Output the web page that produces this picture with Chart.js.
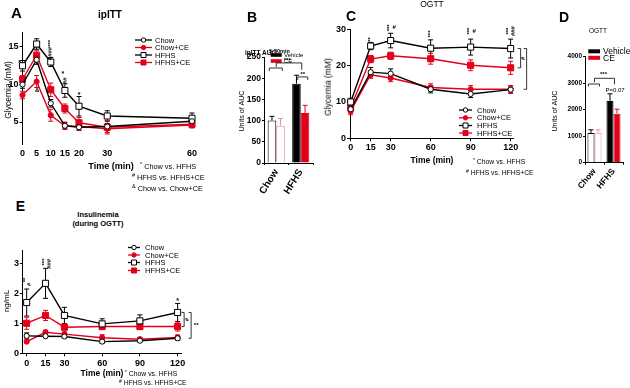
<!DOCTYPE html>
<html><head><meta charset="utf-8">
<script src="https://cdn.jsdelivr.net/npm/chart.js@4.4.0/dist/chart.umd.min.js"></script>
<style>
html,body{margin:0;padding:0;background:#fff;}
body{width:630px;height:388px;overflow:hidden;position:relative;font-family:"Liberation Sans",Arial,sans-serif;}
canvas{position:absolute;}
.t{position:absolute;white-space:nowrap;color:#000;line-height:1;}
.t sup{font-size:75%;vertical-align:top;position:relative;top:-1px;}
</style></head><body>
<canvas id="cA"></canvas><canvas id="cB"></canvas><canvas id="cC"></canvas><canvas id="cD"></canvas><canvas id="cE"></canvas>
<script>
// ---------------- DATA ----------------
const groupNames = ['Chow', 'Chow+CE', 'HFHS', 'HFHS+CE'];

// A: ipITT glycemia (mM)
const ittTime = [0, 5, 10, 15, 20, 30, 60];
const ittTimeTicks = [0, 5, 10, 15, 20, 30, 60];
const ittYTicks = [5, 10, 15];
const ittChow     = [10.0, 13.3, 7.5, 4.5, 4.3, 4.4, 5.1];
const ittChowCE   = [8.6, 10.4, 5.9, 4.5, 4.4, 4.1, 4.6];
const ittHFHS     = [12.5, 15.4, 13.0, 9.2, 7.1, 5.8, 5.5];
const ittHFHSCE   = [10.7, 13.9, 9.3, 6.8, 4.9, 4.3, 4.7];
const ittChowErr   = [0.5, 0.6, 0.5, 0.4, 0.4, 0.4, 0.4];
const ittChowCEErr = [0.5, 0.8, 0.8, 0.5, 0.5, 0.5, 0.4];
const ittHFHSErr   = [0.7, 0.7, 0.6, 0.9, 1.3, 0.7, 0.7];
const ittHFHSCEErr = [0.5, 0.6, 0.9, 0.6, 0.7, 0.9, 0.4];

// B: ipITT AUC 5-30 min
const aucGroups = ['Chow', 'HFHS'];
const ittAucVehicle = [100, 187];
const ittAucCE      = [88, 118];
const ittAucVehicleErr = [10, 20];
const ittAucCEErr      = [17, 18];

// C: OGTT glycemia (mM)
const ogttTime = [0, 15, 30, 60, 90, 120];
const ogttTimeTicks = [0, 15, 30, 60, 90, 120];
const ogttYTicks = [0, 10, 20, 30];
const ogttChow   = [8.0, 18.2, 17.8, 13.5, 12.2, 13.4];
const ogttChowCE = [7.5, 17.5, 16.6, 14.0, 13.5, 13.5];
const ogttHFHS   = [10.0, 25.4, 26.9, 24.8, 25.1, 24.7];
const ogttHFHSCE = [8.5, 21.8, 22.7, 21.9, 20.1, 19.4];
const ogttChowErr   = [1.0, 1.3, 1.3, 1.0, 1.0, 1.0];
const ogttChowCEErr = [1.0, 1.0, 1.0, 1.0, 1.0, 1.0];
const ogttHFHSErr   = [1.0, 1.0, 2.0, 2.3, 2.2, 2.6];
const ogttHFHSCEErr = [1.0, 1.0, 1.0, 1.5, 1.5, 1.8];

// D: OGTT AUC
const ogttAucVehicle = [1120, 2330];
const ogttAucCE      = [1130, 1850];
const ogttAucVehicleErr = [120, 270];
const ogttAucCEErr      = [110, 170];

// E: Insulinemia during OGTT (ng/mL)
const insTime = [0, 15, 30, 60, 90, 120];
const insYTicks = [0, 1, 2, 3];
const insChow   = [0.58, 0.57, 0.56, 0.39, 0.42, 0.50];
const insChowCE = [0.39, 0.70, 0.64, 0.52, 0.47, 0.53];
const insHFHS   = [1.69, 2.33, 1.26, 0.98, 1.08, 1.36];
const insHFHSCE = [1.00, 1.26, 0.87, 0.89, 0.89, 0.89];
const insChowErr   = [0.10, 0.05, 0.05, 0.06, 0.05, 0.06];
const insChowCEErr = [0.04, 0.07, 0.10, 0.10, 0.06, 0.08];
const insHFHSErr   = [0.45, 0.50, 0.27, 0.17, 0.20, 0.30];
const insHFHSCEErr = [0.20, 0.17, 0.08, 0.10, 0.10, 0.15];

// ---------------- STYLE ----------------
const FONT = '"Liberation Sans", Arial, sans-serif';
const BLACK = '#000000', RED = '#e2001a', PINK = '#e8909c';
const EXTRA = {};

function drawErr(chart, o) {
  const ctx = chart.ctx, ys = chart.scales.y;
  ctx.save();
  chart.data.datasets.forEach((ds, di) => {
    const errs = o.list[di]; if (!errs) return;
    const meta = chart.getDatasetMeta(di);
    meta.data.forEach((el, i) => {
      const v = o.bars ? ds.data[i] : ds.data[i].y;
      const e = errs[i];
      const xp = el.x;
      const top = ys.getPixelForValue(v + e);
      const bot = ys.getPixelForValue(o.bars ? v : v - e);
      ctx.strokeStyle = Array.isArray(ds.borderColor) ? ds.borderColor[i] : ds.borderColor;
      ctx.lineWidth = 1;
      ctx.beginPath();
      ctx.moveTo(xp, top); ctx.lineTo(xp, bot);
      ctx.moveTo(xp - o.cap, top); ctx.lineTo(xp + o.cap, top);
      if (!o.bars) { ctx.moveTo(xp - o.cap, bot); ctx.lineTo(xp + o.cap, bot); }
      ctx.stroke();
    });
  });
  ctx.restore();
}
function drawLegend(chart, e) {
  const L = e.legend, ctx = chart.ctx, ox = e.box[0], oy = e.box[1];
  ctx.save();
  ctx.font = L.font; ctx.textBaseline = 'middle'; ctx.textAlign = 'left';
  L.items.forEach((it, i) => {
    const y = L.ys[i] - oy, x0 = L.x0 - ox, x1 = L.x1 - ox;
    if (it.swatch) {
      ctx.fillStyle = it.c; ctx.fillRect(x0, y - L.sh / 2, x1 - x0, L.sh);
    } else {
      ctx.strokeStyle = it.c; ctx.lineWidth = 1.3;
      ctx.beginPath(); ctx.moveTo(x0, y); ctx.lineTo(x1, y); ctx.stroke();
      const cx = (x0 + x1) / 2;
      ctx.fillStyle = it.fill ? it.c : '#fff'; ctx.lineWidth = 1;
      ctx.beginPath();
      if (it.shape === 'circle') ctx.arc(cx, y, 2.2, 0, Math.PI * 2); else ctx.rect(cx - 2.5, y - 2.5, 5, 5);
      ctx.fill(); ctx.stroke();
    }
    ctx.fillStyle = '#000'; ctx.fillText(it.label, L.tx - ox, y + 0.5);
  });
  ctx.restore();
}
function drawMarks(chart, marks) {
  const ctx = chart.ctx, xs = chart.scales.x, ys = chart.scales.y;
  ctx.save(); ctx.fillStyle = '#000'; ctx.strokeStyle = '#000'; ctx.lineWidth = 0.8;
  marks.forEach(m => {
    if (m.k === 't') {
      const x = xs.getPixelForValue(m.x) + (m.dx || 0), y = ys.getPixelForValue(m.y) + (m.dy || 0);
      ctx.save(); ctx.translate(x, y); if (m.rot) ctx.rotate(-Math.PI / 2);
      ctx.font = m.f || ('bold 7px ' + FONT); ctx.textAlign = 'center'; ctx.textBaseline = 'middle';
      ctx.fillText(m.s, 0, 0); ctx.restore();
    } else if (m.k === 'vb') {
      const x = xs.getPixelForValue(m.x) + m.dx, y1 = ys.getPixelForValue(m.y1), y2 = ys.getPixelForValue(m.y2);
      ctx.beginPath(); ctx.moveTo(x - m.w, y1); ctx.lineTo(x, y1); ctx.lineTo(x, y2); ctx.lineTo(x - m.w, y2); ctx.stroke();
    } else if (m.k === 'hb') {
      const x1 = xs.getPixelForValue(m.x1) + m.dx1, x2 = xs.getPixelForValue(m.x2) + m.dx2, y = ys.getPixelForValue(m.y);
      ctx.beginPath(); ctx.moveTo(x1, y + m.h1); ctx.lineTo(x1, y); ctx.lineTo(x2, y); ctx.lineTo(x2, y + m.h2); ctx.stroke();
    }
  });
  ctx.restore();
}
Chart.register({
  id: 'sketch',
  beforeDatasetsDraw(chart) { const e = EXTRA[chart.canvas.id]; if (e && e.err && !e.err.bars) drawErr(chart, e.err); },
  afterDatasetsDraw(chart) { const e = EXTRA[chart.canvas.id]; if (e && e.err && e.err.bars) drawErr(chart, e.err); },
  afterDraw(chart) {
    const e = EXTRA[chart.canvas.id]; if (!e) return;
    if (e.legend) drawLegend(chart, e);
    if (e.marks) drawMarks(chart, e.marks);
  }
});

function lineDS(label, xs, ys, color, shape, filled) {
  return {
    label, data: xs.map((x, i) => ({ x, y: ys[i] })),
    borderColor: color, backgroundColor: color, borderWidth: 1.4,
    pointStyle: shape === 'circle' ? 'circle' : 'rect',
    pointRadius: shape === 'circle' ? 2.6 : 4.3,
    pointBorderColor: color, pointBackgroundColor: filled ? color : '#ffffff',
    pointBorderWidth: 1, tension: 0, clip: false, fill: false
  };
}
function fourSeries(xs, a, b, c, d) {
  return [
    lineDS(groupNames[0], xs, a, BLACK, 'circle', false),
    lineDS(groupNames[1], xs, b, RED, 'circle', true),
    lineDS(groupNames[2], xs, c, BLACK, 'square', false),
    lineDS(groupNames[3], xs, d, RED, 'square', true)
  ];
}
function legendFrom(datasets, x0, x1, tx, ys) {
  return { font: '7.5px ' + FONT, x0, x1, tx, ys,
    items: datasets.map(ds => ({ label: ds.label, c: ds.borderColor, shape: ds.pointStyle === 'circle' ? 'circle' : 'square', fill: ds.pointBackgroundColor !== '#ffffff' })) };
}
const tickFont = (s) => ({ family: FONT, size: s, weight: 'bold' });
const plain = v => String(v);
function axis(o) {
  return Object.assign({
    grid: { display: true, drawOnChartArea: false, drawTicks: true, tickLength: 3, color: '#000', lineWidth: 1 },
    border: { display: true, color: '#000', width: 1 },
    ticks: { color: '#000', font: tickFont(9), padding: 1, autoSkip: false, maxRotation: 0 }
  }, o);
}
function build(id, box, area, cfg, extra) {
  const cv = document.getElementById(id);
  cv.width = box[2]; cv.height = box[3];
  cv.style.left = box[0] + 'px'; cv.style.top = box[1] + 'px';
  cv.style.width = box[2] + 'px'; cv.style.height = box[3] + 'px';
  const o = cfg.options;
  o.responsive = false; o.animation = false; o.devicePixelRatio = 1; o.events = [];
  o.plugins = { legend: { display: false }, tooltip: { enabled: false } };
  o.layout = { padding: { left: 0, bottom: 0, top: area[1] - box[1], right: box[0] + box[2] - area[2] } };
  o.scales.y.afterFit = s => { s.width = area[0] - box[0]; };
  o.scales.x.afterFit = s => { s.height = box[1] + box[3] - area[3]; };
  extra.box = box;
  EXTRA[id] = extra;
  return new Chart(cv, cfg);
}
const setTicks = arr => (s => { s.ticks = arr.map(v => ({ value: v })); });

// ---------------- PANEL A ----------------
const dsA = fourSeries(ittTime, ittChow, ittChowCE, ittHFHS, ittHFHSCE);
build('cA', [0, 20, 205, 150], [22.5, 32, 192, 144.5], {
  type: 'line', data: { datasets: dsA },
  options: { scales: {
    x: axis({ type: 'linear', min: 0, max: 60, afterBuildTicks: setTicks(ittTimeTicks),
      grid: { display: false, drawTicks: false }, border: { display: false },
      ticks: { color: '#000', font: tickFont(9), padding: 4, autoSkip: false, maxRotation: 0 } }),
    y: axis({ type: 'linear', min: 2, max: 17, afterBuildTicks: setTicks(ittYTicks) })
  } }
}, {
  err: { cap: 2.5, list: [ittChowErr, ittChowCEErr, ittHFHSErr, ittHFHSCEErr] },
  legend: legendFrom(dsA, 135, 152, 155, [40, 47.5, 55, 62.5]),
  marks: [
    { k: 't', x: 0, y: 12.9, dx: -3, s: '*' },
    { k: 't', x: 10, y: 14.6, dx: 0, s: '####***', rot: 1, f: 'bold 6px ' + FONT },
    { k: 't', x: 15, y: 11.4, dx: -2, s: '*' },
    { k: 't', x: 15, y: 10.5, dx: 0, s: '##', rot: 1, f: 'bold 6px ' + FONT },
    { k: 't', x: 20, y: 8.6, dx: 0, s: '*' },
    { k: 't', x: 5, y: 9.2, dx: 0.5, s: '&', f: 'bold 6px ' + FONT }
  ]
});

// ---------------- PANEL B ----------------
build('cB', [232, 45, 95, 160], [264, 57, 313, 163], {
  type: 'bar',
  data: { labels: aucGroups, datasets: [
    { label: 'Vehicle', data: ittAucVehicle, backgroundColor: ['#ffffff', BLACK], borderColor: [BLACK, BLACK], borderWidth: 1, borderSkipped: 'bottom', categoryPercentage: 0.7, barPercentage: 1 },
    { label: 'CE', data: ittAucCE, backgroundColor: ['#ffffff', RED], borderColor: [PINK, RED], borderWidth: 1, borderSkipped: 'bottom', categoryPercentage: 0.7, barPercentage: 1 }
  ] },
  options: { scales: {
    x: axis({ grid: { display: true, drawOnChartArea: false, drawTicks: true, tickLength: 2, color: '#000' },
      ticks: { color: '#000', font: tickFont(10), padding: 2, autoSkip: false, minRotation: 58, maxRotation: 58 } }),
    y: axis({ type: 'linear', min: 0, max: 250, ticks: { color: '#000', font: tickFont(8.5), padding: 1, stepSize: 50, callback: plain },
      grid: { display: true, drawOnChartArea: false, drawTicks: true, tickLength: 2, color: '#000' } })
  } }
}, {
  err: { bars: true, cap: 2.5, list: [ittAucVehicleErr, ittAucCEErr] },
  legend: { font: '6px ' + FONT, x0: 270.7, x1: 281.7, tx: 284, ys: [55, 61], sh: 3.6,
    items: [{ label: 'Vehicle', c: BLACK, swatch: 1 }, { label: 'CE', c: RED, swatch: 1 }] },
  marks: [
    { k: 'hb', x1: 0, x2: 0, dx1: -7, dx2: 6, y: 224, h1: 3, h2: 3 },
    { k: 'hb', x1: 0, x2: 1, dx1: 0, dx2: 1, y: 236, h1: 4, h2: 7 },
    { k: 't', x: 0, y: 243, dx: 11, s: '***', f: 'bold 6px ' + FONT },
    { k: 'hb', x1: 1, x2: 1, dx1: -3, dx2: 7, y: 203, h1: 3, h2: 3 },
    { k: 't', x: 1, y: 210, dx: 2, s: '**', f: 'bold 6px ' + FONT }
  ]
});

// ---------------- PANEL C ----------------
const dsC = fourSeries(ogttTime, ogttChow, ogttChowCE, ogttHFHS, ogttHFHSCE);
build('cC', [318, 15, 210, 140], [350, 29.3, 513.3, 138.3], {
  type: 'line', data: { datasets: dsC },
  options: { scales: {
    x: axis({ type: 'linear', min: -0.5, max: 122, afterBuildTicks: setTicks(ogttTimeTicks) }),
    y: axis({ type: 'linear', min: 0, max: 30, afterBuildTicks: setTicks(ogttYTicks) })
  } }
}, {
  err: { cap: 2.5, list: [ogttChowErr, ogttChowCEErr, ogttHFHSErr, ogttHFHSCEErr] },
  legend: legendFrom(dsC, 459, 472, 477, [110, 117.8, 125.5, 133]),
  marks: [
    { k: 't', x: 15, y: 27.2, dx: 0, s: '**', rot: 1, f: 'bold 6px ' + FONT },
    { k: 't', x: 30, y: 30.4, dx: -1.5, s: '***', rot: 1, f: 'bold 6px ' + FONT },
    { k: 't', x: 30, y: 30.6, dx: 3.5, s: '#', f: 'bold 6px ' + FONT },
    { k: 't', x: 60, y: 28.7, dx: 0, s: '***', rot: 1, f: 'bold 6px ' + FONT },
    { k: 't', x: 90, y: 29.5, dx: -1.5, s: '***', rot: 1, f: 'bold 6px ' + FONT },
    { k: 't', x: 90, y: 29.5, dx: 3.5, s: '#', f: 'bold 6px ' + FONT },
    { k: 't', x: 120, y: 29.5, dx: -2, s: '***', rot: 1, f: 'bold 6px ' + FONT },
    { k: 't', x: 120, y: 29.5, dx: 2.5, s: '###', rot: 1, f: 'bold 6px ' + FONT },
    { k: 'vb', x: 120, dx: 10, y1: 24.7, y2: 19.4, w: 3 },
    { k: 't', x: 120, y: 22, dx: 13, s: '#', rot: 1, f: 'bold 6px ' + FONT },
    { k: 'vb', x: 120, dx: 16, y1: 24.7, y2: 13.5, w: 3 },
    { k: 't', x: 120, y: 19, dx: 20, s: '***', rot: 1, f: 'bold 6px ' + FONT }
  ]
});

// ---------------- PANEL D ----------------
build('cD', [550, 45, 80, 160], [585, 56.7, 623, 162.7], {
  type: 'bar',
  data: { labels: aucGroups, datasets: [
    { label: 'Vehicle', data: ogttAucVehicle, backgroundColor: ['#ffffff', BLACK], borderColor: [BLACK, BLACK], borderWidth: 1, borderSkipped: 'bottom', categoryPercentage: 0.74, barPercentage: 1 },
    { label: 'CE', data: ogttAucCE, backgroundColor: ['#ffffff', RED], borderColor: [PINK, RED], borderWidth: 1, borderSkipped: 'bottom', categoryPercentage: 0.74, barPercentage: 1 }
  ] },
  options: { scales: {
    x: axis({ grid: { display: true, drawOnChartArea: false, drawTicks: true, tickLength: 2, color: '#000' },
      ticks: { color: '#000', font: tickFont(8.5), padding: 2, autoSkip: false, minRotation: 50, maxRotation: 50 } }),
    y: axis({ type: 'linear', min: 0, max: 4000, ticks: { color: '#000', font: tickFont(6.5), padding: 1, stepSize: 1000, callback: plain },
      grid: { display: true, drawOnChartArea: false, drawTicks: true, tickLength: 2, color: '#000' } })
  } }
}, {
  err: { bars: true, cap: 2.5, list: [ogttAucVehicleErr, ogttAucCEErr] },
  legend: { font: '8.5px ' + FONT, x0: 588.3, x1: 600, tx: 603, ys: [51.3, 57.8], sh: 4,
    items: [{ label: 'Vehicle', c: BLACK, swatch: 1 }, { label: 'CE', c: RED, swatch: 1 }] },
  marks: [
    { k: 'hb', x1: 0, x2: 0, dx1: -6, dx2: 5, y: 2970, h1: 2.5, h2: 2.5 },
    { k: 'hb', x1: 0, x2: 1, dx1: 0, dx2: 1, y: 3185, h1: 4, h2: 6 },
    { k: 't', x: 0, y: 3330, dx: 9, s: '***', f: 'bold 6px ' + FONT },
    { k: 't', x: 1, y: 2740, dx: 1.5, s: 'P=0.07', f: '6px ' + FONT }
  ]
});

// ---------------- PANEL E ----------------
const dsE = fourSeries(insTime, insChow, insChowCE, insHFHS, insHFHSCE);
build('cE', [0, 240, 200, 130], [22.9, 250, 181.4, 353.3], {
  type: 'line', data: { datasets: dsE },
  options: { scales: {
    x: axis({ type: 'linear', min: -3, max: 123, afterBuildTicks: setTicks(ogttTimeTicks),
      ticks: { color: '#000', font: tickFont(9), padding: 1.5, autoSkip: false, maxRotation: 0 } }),
    y: axis({ type: 'linear', min: 0, max: 3.44, afterBuildTicks: setTicks(insYTicks) })
  } }
}, {
  err: { cap: 2.5, list: [insChowErr, insChowCEErr, insHFHSErr, insHFHSCEErr] },
  legend: legendFrom(dsE, 128, 140, 145, [247.5, 255, 262.5, 270.5]),
  marks: [
    { k: 't', x: 0, y: 2.44, dx: -1, s: '**', rot: 1, f: 'bold 6px ' + FONT },
    { k: 't', x: 0, y: 2.3, dx: 3, s: '#', rot: 1, f: 'bold 6px ' + FONT },
    { k: 't', x: 15, y: 3.04, dx: -1.5, s: '***', rot: 1, f: 'bold 6px ' + FONT },
    { k: 't', x: 15, y: 2.98, dx: 3.5, s: '###', rot: 1, f: 'bold 6px ' + FONT },
    { k: 't', x: 120, y: 1.75, dx: 0, s: '*' },
    { k: 'vb', x: 120, dx: 6.5, y1: 1.36, y2: 0.89, w: 2.5 },
    { k: 't', x: 120, y: 1.12, dx: 10, s: '#', rot: 1, f: 'bold 6px ' + FONT },
    { k: 'vb', x: 120, dx: 13.5, y1: 1.36, y2: 0.5, w: 2.5 },
    { k: 't', x: 120, y: 0.93, dx: 18.5, s: '**', f: 'bold 6px ' + FONT }
  ]
});

// ---------------- TEXT ----------------
// [html, x, y, size, weight, rotate, align]
const texts = [
  ['A', 16.5, 12, 15, 'bold', 0, 'c'],
  ['B', 252, 17, 14, 'bold', 0, 'c'],
  ['C', 351, 16, 14, 'bold', 0, 'c'],
  ['D', 564, 17, 14, 'bold', 0, 'c'],
  ['E', 20.5, 206, 14, 'bold', 0, 'c'],
  ['ipITT', 110, 15, 10, 'bold', 0, 'c'],
  ['ipITT AUC', 245, 53, 6.5, 'bold', 0, 'l'],
  ['5-30min', 269, 51.5, 5.5, 'bold', 0, 'l'],
  ['OGTT', 432, 3.5, 8.5, 'normal', 0, 'c'],
  ['OGTT', 598, 31, 6.5, 'normal', 0, 'c'],
  ['Insulinemia', 98, 215, 7.5, 'bold', 0, 'c'],
  ['(during OGTT)', 98, 224, 7.5, 'bold', 0, 'c'],
  ['Glycemia (mM)', 7.5, 90, 8.5, 'normal', 1, 'c'],
  ['Time (min)', 111, 166, 9, 'bold', 0, 'c'],
  ['Units of AUC', 242, 111, 7.2, 'normal', 1, 'c'],
  ['Glycemia (mM)', 328, 87, 8.5, 'normal', 1, 'c'],
  ['Time (min)', 432, 160, 8.5, 'bold', 0, 'c'],
  ['Units of AUC', 555, 111, 7.2, 'normal', 1, 'c'],
  ['ng/mL', 7, 301, 8, 'normal', 1, 'c'],
  ['Time (min)', 102, 373, 8.5, 'bold', 0, 'c'],
  ['<sup>*</sup> Chow vs. HFHS', 140, 167, 7.3, 'normal', 0, 'l'],
  ['<sup>#</sup> HFHS vs. HFHS+CE', 132, 178, 7.3, 'normal', 0, 'l'],
  ['<sup>&amp;</sup> Chow vs. Chow+CE', 132, 189, 7.3, 'normal', 0, 'l'],
  ['<sup>*</sup> Chow vs. HFHS', 473, 162, 6.8, 'normal', 0, 'l'],
  ['<sup>#</sup> HFHS vs. HFHS+CE', 466, 173, 6.8, 'normal', 0, 'l'],
  ['<sup>*</sup> Chow vs. HFHS', 125, 374, 6.8, 'normal', 0, 'l'],
  ['<sup>#</sup> HFHS vs. HFHS+CE', 119, 383, 6.8, 'normal', 0, 'l']
];
texts.forEach(([h, x, y, s, w, r, a]) => {
  const d = document.createElement('div');
  d.className = 't'; d.innerHTML = h;
  d.style.left = x + 'px'; d.style.top = y + 'px';
  d.style.fontSize = s + 'px'; d.style.fontWeight = w;
  d.style.transform = a === 'c' ? ('translate(-50%,-50%)' + (r ? ' rotate(-90deg)' : '')) : 'translate(0,-50%)';
  document.body.appendChild(d);
});
</script>
</body></html>
